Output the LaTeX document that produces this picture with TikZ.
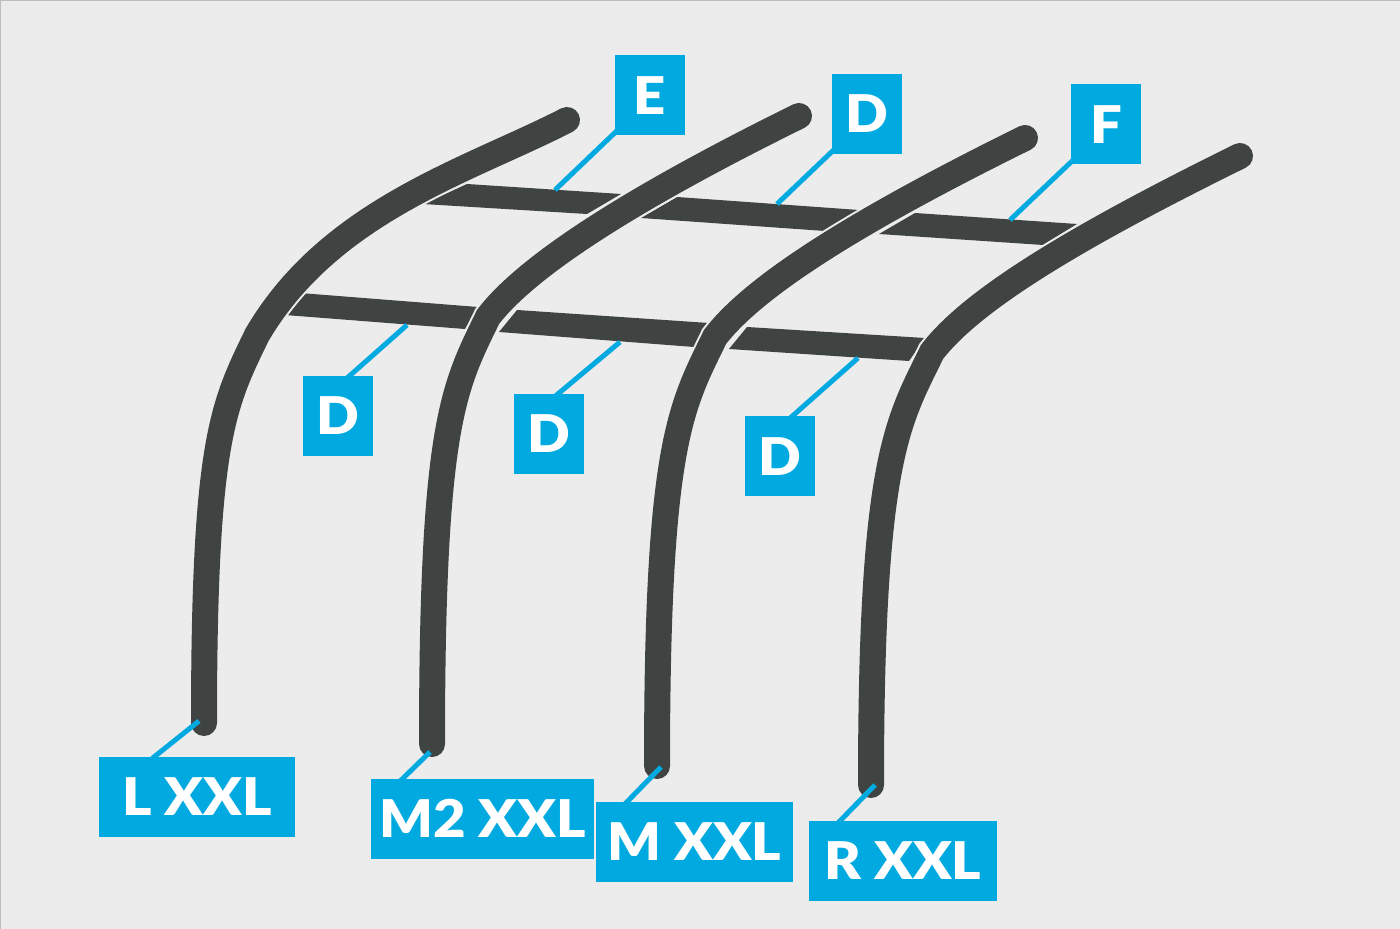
\documentclass[tikz,border=0pt]{standalone}
\usepackage{fontspec}
\setmainfont[BoldFont={Lato Black},BoldFeatures={FakeStretch=1.08}]{Lato}
\definecolor{railgrey}{HTML}{3F4342}
\definecolor{tagblue}{HTML}{00A9E0}
\definecolor{wallgrey}{HTML}{ECECEC}
\definecolor{framegrey}{HTML}{BDBDBD}
\tikzset{
    rail/.style={draw=railgrey, line width=13pt, line cap=round, preaction={draw=wallgrey, line width=15pt}},
    band/.style={fill=railgrey},
    leader/.style={draw=tagblue, line width=2.5pt, shorten <=-2pt},
    tag/.style={fill=tagblue, text=white, inner sep=0pt, minimum height=40pt, font=\fontsize{26}{26}\selectfont\bfseries}
}
\begin{document}
\begin{tikzpicture}[x=0.5pt,y=-0.5pt]
                    \useasboundingbox (0,0) rectangle (1400,929);
                    \fill[wallgrey] (0,0) rectangle (1400,929);
                    \draw[framegrey, line width=0.7pt] (0.5,929) -- (0.5,0.5) -- (1400,0.5);

                    % Labels
                    \foreach \name/\cx/\cy/\wide/\txt in {tagE/649.5/95.5/35/E, tagDa/867/114/35/D, tagF/1106/124.5/35/F,
                        tagDb/337.5/416/35/D, tagDc/549/434/35/D, tagDd/780/456.5/35/D,
                        tagL/197/796.5/98/L XXL, tagMb/482.5/818.5/111.5/M2 XXL, tagM/694.5/842/98.5/M XXL, tagR/903/860.5/94/R XXL}
                    {
                        \node[tag, minimum width=\wide pt] (\name) at (\cx,\cy) {\txt};
                    }

                    % Ends of the leaders
                    \coordinate (endE) at (555,190);
                    \coordinate (endDa) at (777,204);
                    \coordinate (endF) at (1010,220);
                    \coordinate (endDb) at (407,325);
                    \coordinate (endDc) at (620,342);
                    \coordinate (endDd) at (858,358);
                    \coordinate (endL) at (199,721);
                    \coordinate (endMb) at (430,752);
                    \coordinate (endM) at (661,767);
                    \coordinate (endR) at (875,785);

                    % Cross bands
                    \fill[band] (467,184) -- (621,194) -- (587,214) -- (423,204) -- cycle;
                    \fill[band] (677,197) -- (859,210) -- (825,231) -- (641,218) -- cycle;
                    \fill[band] (915,213) -- (1077,224) -- (1043,245) -- (879,234) -- cycle;
                    \fill[band] (300,293) -- (478,307) -- (465,329) -- (285,315) -- cycle;
                    \fill[band] (517,310) -- (709,323) -- (694,347) -- (499,332) -- cycle;
                    \fill[band] (747,327) -- (925,338) -- (909,361) -- (729,349) -- cycle;

                    % Rails
                    \foreach \topx/\topy/\ax/\ay/\bx/\by/\kx/\ky/\botx/\boty in {567/120/470/170/330/210/257/335/204/723,
                        799/116/645/192/530/262/488/317/432/744, 1025/138/871/214/757/282/715/337/657/766,
                        1240/156/1086/232/974/297/932/352/871/785}
                    {
                        \draw[rail] (\topx,\topy) .. controls (\ax,\ay) and (\bx,\by) .. (\kx,\ky)
                            .. controls (\kx-34,\ky+70) and (\botx,\ky+105) .. (\botx,\boty);
                    }

                    % Draw leaders from labels to the rails
                    \foreach \name/\pt/\ang in {tagE/endE/227, tagDa/endDa/227, tagF/endF/227, tagDb/endDb/73, tagDc/endDc/77,
                        tagDd/endDd/73, tagL/endL/136, tagMb/endMb/153.5, tagM/endM/149, tagR/endR/147}
                    {
                        \draw[leader] (\name.\ang) -- (\pt);
                    }
                \end{tikzpicture}
\end{document}
